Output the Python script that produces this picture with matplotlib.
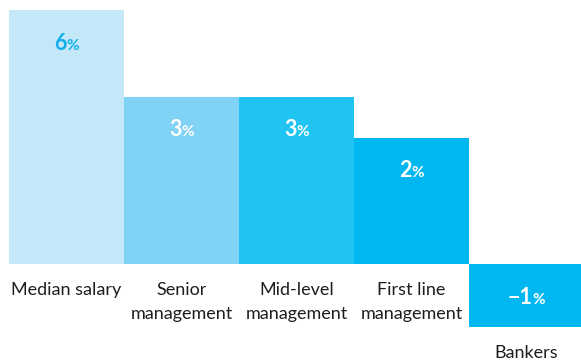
import matplotlib
matplotlib.use("Agg")
import matplotlib.pyplot as plt
from matplotlib.offsetbox import TextArea, HPacker, AnnotationBbox

categories = ["Median salary", "Senior\nmanagement", "Mid-level\nmanagement",
              "First line\nmanagement", "Bankers"]
values = [6.0, 3.95, 3.95, 2.98, -1.5]
colors = ["#C5E8F9", "#80D3F5", "#20C4F2", "#00B7EF", "#00B7EF"]
label_colors = ["#12AEEA", "white", "white", "white", "white"]

plt.rcParams["font.family"] = ["Lato", "DejaVu Sans"]

fig = plt.figure(figsize=(5.81, 3.6), dpi=100)
# axes runs past the right edge so the last bar is clipped by the figure
ax = fig.add_axes([9 / 581, 0, 575 / 581, 1])
ax.bar(range(len(values)), values, width=1.0, color=colors)
ax.set_xlim(-0.5, len(values) - 0.5)
ax.set_ylim(-2.268, 6.237)
ax.axis("off")

for i, (cat, v) in enumerate(zip(categories, values)):
    # value label, percent sign drawn a bit smaller
    num = "%d" % int(v)
    num = num.replace("-", "\u2212")
    digits = TextArea(num, textprops=dict(color=label_colors[i], fontsize=15.5, fontweight="bold"))
    pct = TextArea("%", textprops=dict(color=label_colors[i], fontsize=11, fontweight="bold"))
    box = HPacker(children=[digits, pct], align="baseline", pad=0, sep=0)
    ab = AnnotationBbox(box, (i, max(v, 0)), xybox=(0, -33), xycoords="data",
                        boxcoords="offset pixels", box_alignment=(0.5, 0.5),
                        frameon=False, pad=0)
    ax.add_artist(ab)

    ax.annotate(cat, (i, min(v, 0)), xytext=(0, -18), textcoords="offset pixels",
                ha="center", va="top", fontsize=13, color="#1E1E1E",
                linespacing=1.6, annotation_clip=False)

fig.savefig("out.png", dpi=100)
